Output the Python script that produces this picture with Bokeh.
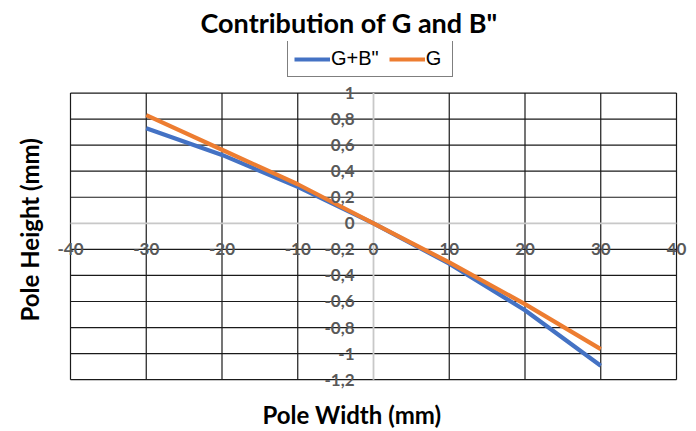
from bokeh.plotting import figure
from bokeh.models import Title, Legend, LegendItem, ColumnDataSource, Range1d
from bokeh.core.properties import value
from bokeh.embed import file_html
from bokeh.resources import INLINE

# ---- data ----
x_vals = [-30, -20, -10, 0, 10, 20, 30]
gb_vals = [0.73, 0.525, 0.28, 0.0, -0.31, -0.667, -1.093]
g_vals = [0.83, 0.565, 0.30, 0.0, -0.30, -0.62, -0.966]

x_ticks = [-40, -30, -20, -10, 0, 10, 20, 30, 40]
x_tick_labels = ["-40", "-30", "-20", "-10", "0", "10", "20", "30", "40"]
y_ticks = [1.0, 0.8, 0.6, 0.4, 0.2, 0.0, -0.2, -0.4, -0.6, -0.8, -1.0, -1.2]
y_tick_labels = ["1", "0,8", "0,6", "0,4", "0,2", "0", "-0,2", "-0,4", "-0,6", "-0,8", "-1", "-1,2"]

# ---- layout (pixels) ----
W, H = 694, 429
ML, MR, MT, MB = 44, 0, 40, 31
BOX_L, BOX_R, BOX_T, BOX_B = 70, 676, 92, 381   # where the plot box should sit
xmin, xmax = min(x_ticks), max(x_ticks)
ymin, ymax = min(y_ticks), max(y_ticks)
sx = (BOX_R - BOX_L) / (xmax - xmin)
sy = (BOX_B - BOX_T) / (ymax - ymin)
xr = Range1d(xmin - (BOX_L - ML) / sx, xmax + ((W - MR) - BOX_R) / sx)
yr = Range1d(ymin - ((H - MB) - BOX_B) / sy, ymax + (BOX_T - MT) / sy)

p = figure(width=W, height=H, x_range=xr, y_range=yr,
           x_axis_location=None, y_axis_location=None,
           output_backend="svg", toolbar_location=None,
           min_border_left=ML, min_border_right=MR, min_border_top=MT, min_border_bottom=MB)
p.background_fill_color = "white"
p.border_fill_color = "white"
p.outline_line_color = None
p.xgrid.visible = False
p.ygrid.visible = False

p.title.text = 'Contribution of G and B"'
p.title.align = "left"
p.title.text_font = "Lato"
p.title.text_font_style = "bold"
p.title.text_font_size = "27px"
p.title.text_color = "black"
p.title.offset = 200 - ML
p.title.standoff = 6

# grid lines (black), excluding the axes at zero
gx = [t for t in x_ticks if t != 0]
gy = [t for t in y_ticks if t != 0]
p.segment(x0=gx, y0=[ymin] * len(gx), x1=gx, y1=[ymax] * len(gx), line_color="#1a1a1a", line_width=1.2)
p.segment(x0=[xmin] * len(gy), y0=gy, x1=[xmax] * len(gy), y1=gy, line_color="#1a1a1a", line_width=1.2)
# axes through zero (light gray)
p.segment(x0=[0, xmin], y0=[ymin, 0], x1=[0, xmax], y1=[ymax, 0], line_color="#C8C8C8", line_width=1.8)

r1 = p.line(x_vals, gb_vals, line_color="#4472C4", line_width=4.2)
r2 = p.line(x_vals, g_vals, line_color="#ED7D31", line_width=4.2)

xs = ColumnDataSource(dict(x=x_ticks, y=[0] * len(x_ticks), t=x_tick_labels))
p.text(x="x", y="y", text="t", source=xs, text_align="center", text_baseline="middle",
       y_offset=26, text_font=value("Lato"), text_font_style="bold",
       text_font_size="17px", text_color="#595959")
ys = ColumnDataSource(dict(x=[0] * len(y_ticks), y=y_ticks, t=y_tick_labels))
p.text(x="x", y="y", text="t", source=ys, text_align="right", text_baseline="middle",
       x_offset=-19, text_font=value("Lato"), text_font_style="bold",
       text_font_size="17px", text_color="#595959")

legend = Legend(items=[LegendItem(label='G+B"', renderers=[r1]), LegendItem(label="G", renderers=[r2])],
                orientation="horizontal", location=(287 - ML, (H - MB) - 79),
                label_text_font="Liberation Sans", label_text_font_size="20px",
                label_text_color="black",
                glyph_width=36, glyph_height=20, label_standoff=1, spacing=10,
                padding=6, margin=0, border_line_color="black", border_line_width=1.2,
                background_fill_color="white", background_fill_alpha=1.0)
p.add_layout(legend)

p.add_layout(Title(text="Pole Height (mm)", align="left", text_font="Lato", text_color="black",
                   text_font_style="bold", text_font_size="24px", standoff=2,
                   offset=(H - MB) - 323), "left")
p.add_layout(Title(text="Pole Width (mm)", align="left", text_font="Lato", text_color="black",
                   text_font_style="bold", text_font_size="24px", standoff=2,
                   offset=262 - ML), "below")

open("out.html", "w").write(file_html(p, INLINE))
